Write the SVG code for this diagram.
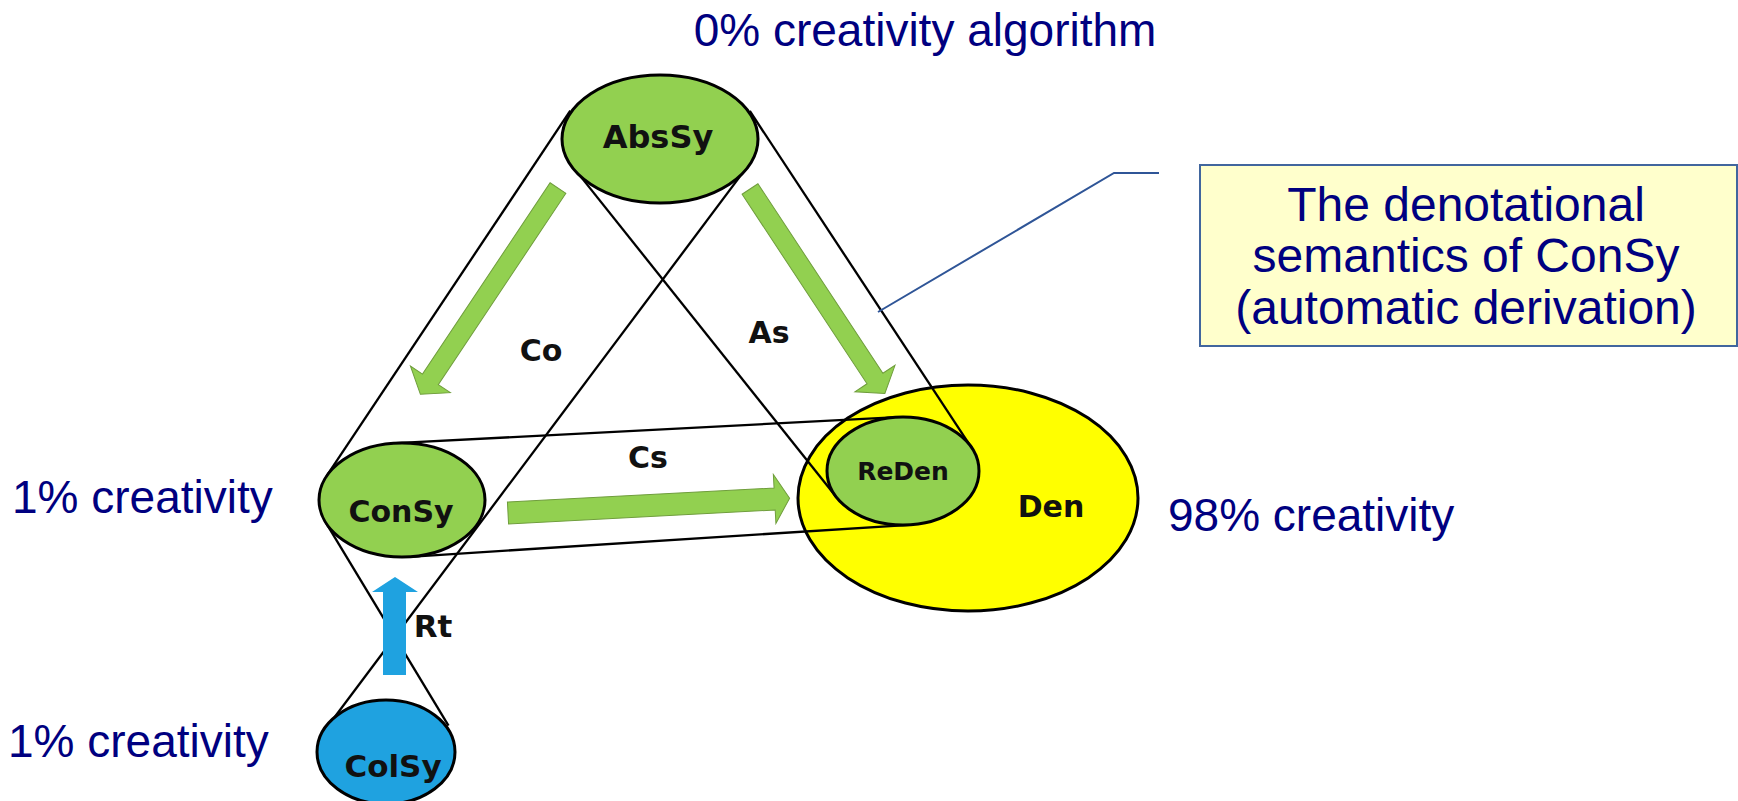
<svg xmlns="http://www.w3.org/2000/svg" width="1738" height="801" viewBox="0 0 1738 801">
<style>
.lbl{font-family:"Liberation Sans",Arial,sans-serif;font-size:46px;fill:#000080}
.box{font-family:"Liberation Sans",Arial,sans-serif;font-size:48px;fill:#000080;text-anchor:middle}
.nt{font-family:"DejaVu Sans",Verdana,sans-serif;font-weight:bold;fill:#111;text-anchor:middle}
.green{fill:#92D050;stroke:#000;stroke-width:3}
.garrow{fill:#92D050;stroke:#6f9d3c;stroke-width:1}
.conn line{stroke:#000;stroke-width:2.3}
.call{stroke:#2f5597;stroke-width:2;fill:none}
</style>
<rect width="1738" height="801" fill="#fff"/>
<g id="Den"><ellipse cx="968" cy="498" rx="170" ry="113" fill="#FFFF00" stroke="#000" stroke-width="3"/>
<text class="nt" x="1051" y="517" font-size="30">Den</text></g>
<g id="connectors" class="conn">
<line x1="570.3" y1="110.7" x2="326.5" y2="476.2"/>
<line x1="747.7" y1="166.1" x2="331" y2="722"/>
<line x1="749.8" y1="111" x2="971.8" y2="448.1"/>
<line x1="573.4" y1="167.4" x2="836.9" y2="497.7"/>
<line x1="395.7" y1="443.2" x2="897.4" y2="417.1"/>
<line x1="409.7" y1="556.8" x2="909.8" y2="524.8"/>
<line x1="325.4" y1="521.9" x2="448.5" y2="725.6"/>
<polyline class="call" points="878,312 1114,173 1159,173"/>
</g>
<g id="ReDen"><ellipse class="green" cx="903" cy="471" rx="76" ry="54"/>
<text class="nt" x="903" y="480" font-size="25">ReDen</text></g>
<g id="AbsSy"><ellipse class="green" cx="660" cy="139" rx="98" ry="64"/>
<text class="nt" x="658" y="148" font-size="32">AbsSy</text></g>
<g id="ConSy"><ellipse class="green" cx="402" cy="500" rx="83" ry="57"/>
<text class="nt" x="401" y="522" font-size="30">ConSy</text></g>
<g id="ColSy"><ellipse cx="386" cy="752" rx="69" ry="52" fill="#1FA2E0" stroke="#000" stroke-width="3"/>
<text class="nt" x="393" y="777" font-size="31">ColSy</text></g>
<g id="arrows">
<path class="garrow" d="M0,-9.5 H230 V-24 L248,0 L230,24 V9.5 H0 Z" transform="translate(558,188) rotate(123.7)"/>
<path class="garrow" d="M0,-9.5 H227 V-24 L245,0 L227,24 V9.5 H0 Z" transform="translate(750,189) rotate(56.6)"/>
<path class="garrow" d="M0,-11 H267 V-24.5 L282,0 L267,24.5 V11 H0 Z" transform="translate(508,513) rotate(-3)"/>
<polygon points="383,675 383,592 372,592 395,577 418,592 406,592 406,675" fill="#1FA2E0"/>
</g>
<g id="edge-labels">
<text class="nt" x="541" y="361" font-size="30">Co</text>
<text class="nt" x="769" y="343" font-size="30">As</text>
<text class="nt" x="648" y="468" font-size="30">Cs</text>
<text class="nt" x="433" y="637" font-size="31">Rt</text>
</g>
<g id="side-labels">
<text class="lbl" x="925" y="46" text-anchor="middle" font-size="48">0% creativity algorithm</text>
<text class="lbl" x="12" y="513">1% creativity</text>
<text class="lbl" x="8" y="757">1% creativity</text>
<text class="lbl" x="1168" y="531">98% creativity</text>
</g>
<g id="callout">
<rect x="1200" y="165" width="537" height="181" fill="#FFFFCC" stroke="#41669e" stroke-width="2"/>
<text class="box" x="1466" y="221">The denotational</text>
<text class="box" x="1466" y="272">semantics of ConSy</text>
<text class="box" x="1466" y="324">(automatic derivation)</text>
</g>
</svg>
